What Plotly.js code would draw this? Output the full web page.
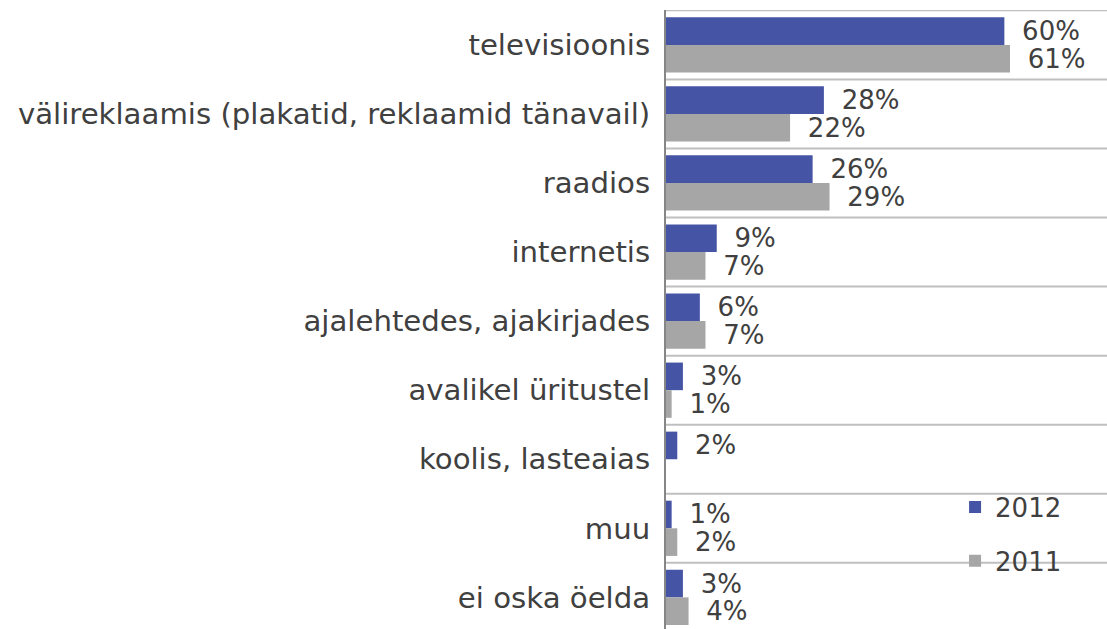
<!DOCTYPE html>
<html>
<head>
<meta charset="utf-8">
<script src="https://cdn.plot.ly/plotly-3.0.1.min.js"></script>
<style>html,body{margin:0;padding:0;background:#fff;}#chart{width:1107px;height:629px;}</style>
</head>
<body>
<div id="chart"></div>
<script>
const categories = ['televisioonis','välireklaamis (plakatid, reklaamid tänavail)','raadios','internetis','ajalehtedes, ajakirjades','avalikel üritustel','koolis, lasteaias','muu','ei oska öelda'];
const values2012 = [60,28,26,9,6,3,2,1,3];
const values2011 = [61,22,29,7,7,1,null,2,4];
const seriesNames = ['2012','2011'];

const FONT = '"DejaVu Sans", sans-serif';
const TXT = '#404040';

function mk(name, vals, color, group){
  return {
    type:'bar', orientation:'h', name:name, y:categories, x:vals,
    marker:{color:color},
    texttemplate:'\u00a0\u2005%{x}%', textposition:'outside', cliponaxis:false,
    constraintext:'none',
    textfont:{family:FONT,size:26,color:TXT},
    legendgroup:group, hoverinfo:'skip'
  };
}
const traces = [
  mk(seriesNames[0], values2012, '#4654A5', 'a'),
  mk(seriesNames[1], values2011, '#A6A6A6', 'b')
];

const shapes = [];
for (let k=0;k<categories.length;k++){
  shapes.push({type:'line', xref:'paper', yref:'y', x0:0, x1:1, y0:k-0.5, y1:k-0.5,
    line:{color:'#BFBFBF', width:2}, layer:'below'});
}

const layout = {
  width:1107, height:629,
  margin:{l:666, r:0, t:10, b:0, pad:0},
  paper_bgcolor:'#fff', plot_bgcolor:'#fff',
  font:{family:FONT, size:26, color:TXT},
  barmode:'group', bargap:0.2, bargroupgap:0,
  showlegend:true,
  legend:{x:0.6555, xanchor:'left', y:0.235, yanchor:'top', bgcolor:'rgba(0,0,0,0)',
    traceorder:'grouped', tracegroupgap:17, font:{family:FONT,size:26,color:TXT}},
  xaxis:{range:[0,78.2], visible:false, showgrid:false, zeroline:false, fixedrange:true},
  yaxis:{type:'category', range:[8.458,-0.505], showgrid:false, zeroline:false,
    showline:true, linecolor:'#868686', linewidth:2, ticks:'',
    ticklabelstandoff:8, tickfont:{family:FONT,size:29.2,color:TXT}, automargin:false},
  shapes:shapes
};
Plotly.newPlot('chart', traces, layout, {displayModeBar:false, staticPlot:true});
</script>
</body>
</html>
